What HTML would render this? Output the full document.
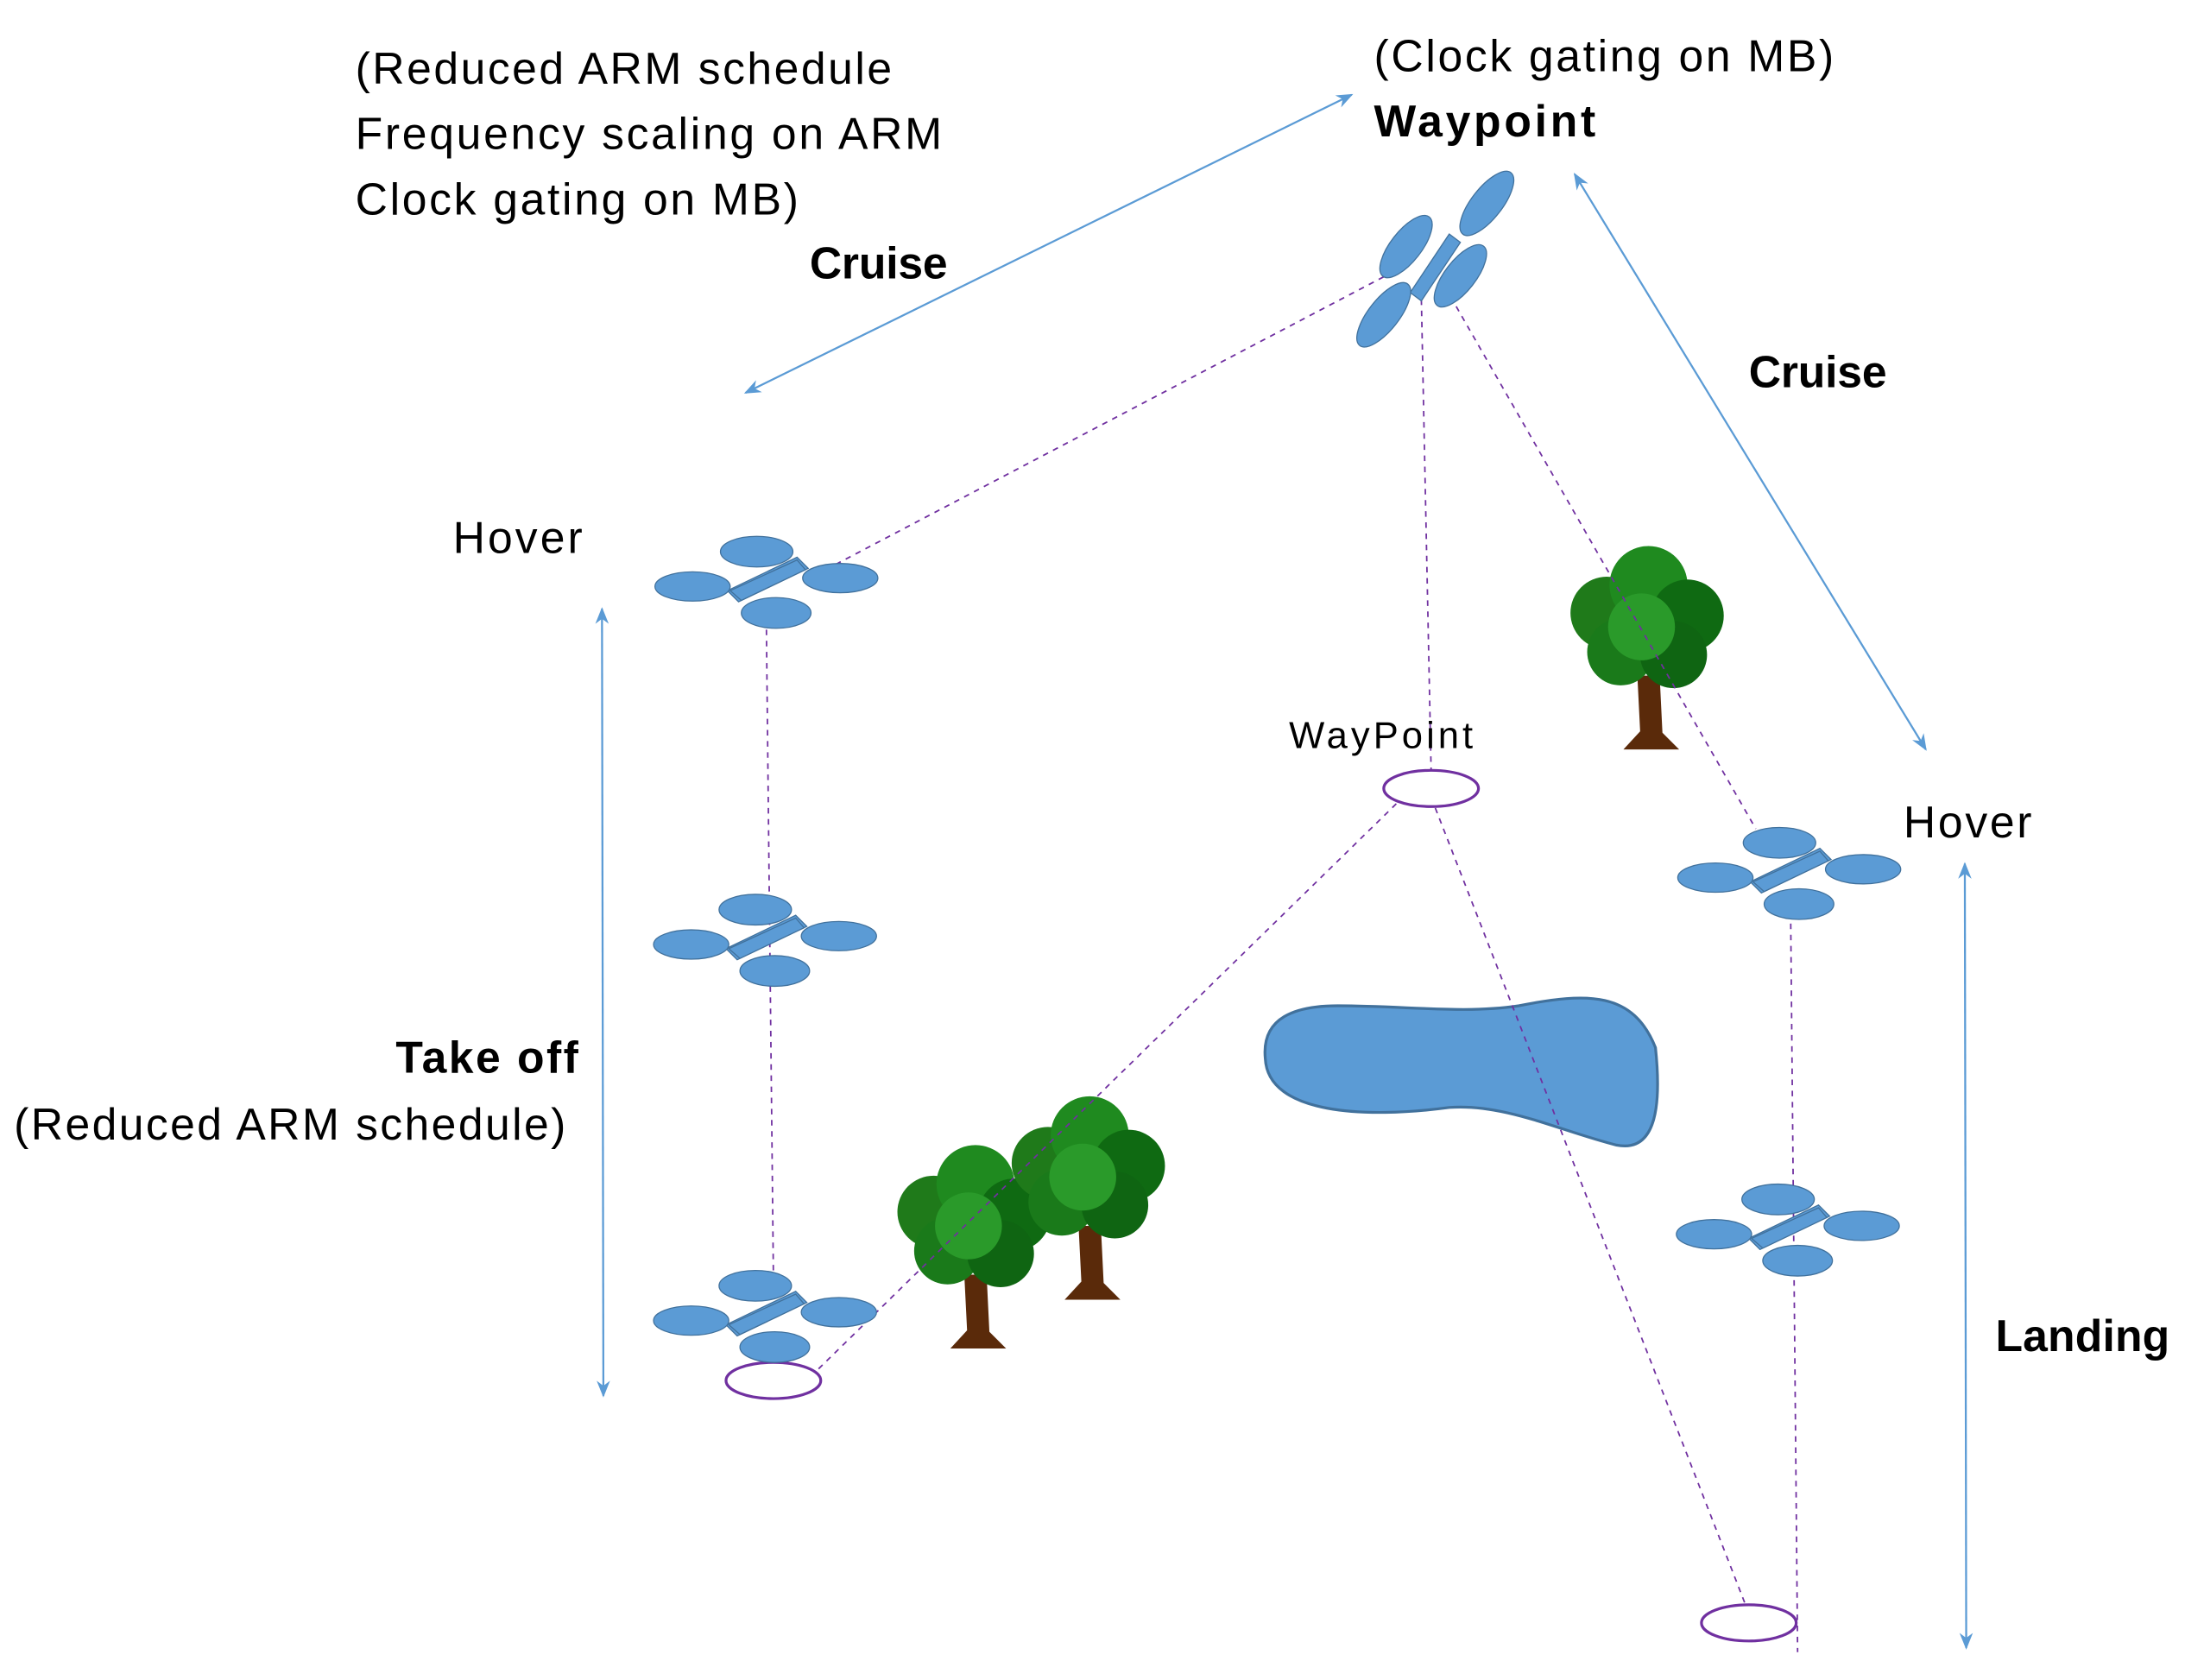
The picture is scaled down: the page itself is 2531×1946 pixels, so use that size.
<!DOCTYPE html>
<html><head><meta charset="utf-8"><style>
html,body{margin:0;padding:0;background:#fff;}
svg{display:block;}
text{font-family:"Liberation Sans",sans-serif;fill:#000;}
</style></head><body>
<svg width="2531" height="1946" viewBox="0 0 1568 1206" preserveAspectRatio="none" xmlns="http://www.w3.org/2000/svg">
<defs>
<marker id="ah" viewBox="0 0 10 10" refX="9" refY="5" markerWidth="16" markerHeight="12" orient="auto-start-reverse" markerUnits="userSpaceOnUse">
<path d="M0,1 L10,5 L0,9 L3,5 Z" fill="#5b9bd5"/></marker>
<g id="drone">
<polygon points="-28,6 22,-18 30,-10 -20,14"/>
<ellipse cx="-7" cy="-22" rx="26" ry="11"/>
<ellipse cx="-53" cy="3" rx="27" ry="10.5"/>
<ellipse cx="53" cy="-3" rx="27" ry="10.5"/>
<ellipse cx="7" cy="22" rx="25" ry="11"/>
<polygon points="-26,6 22,-16 28,-9 -18,13"/>
</g>
<g id="tree">
<path d="M-8,35 L-6,75 L-18,88 L22,88 L10,76 L8,35 Z" fill="#5a2a0a"/>
<circle cx="-30" cy="-10" r="26" fill="#1f7a1a"/>
<circle cx="0" cy="-30" r="28" fill="#1f8a1f"/>
<circle cx="28" cy="-8" r="26" fill="#0f6a12"/>
<circle cx="-20" cy="18" r="24" fill="#1a7a1a"/>
<circle cx="18" cy="20" r="24" fill="#0f6512"/>
<circle cx="-5" cy="0" r="24" fill="#2a9a2a"/>
</g>
</defs>

<g stroke="#5b9bd5" stroke-width="1.4" fill="none" marker-start="url(#ah)" marker-end="url(#ah)">
<line x1="535" y1="282" x2="970" y2="68"/>
<line x1="1130" y1="125" x2="1382" y2="538"/>
<line x1="432" y1="437" x2="433" y2="1002"/>
<line x1="1410" y1="620" x2="1411" y2="1183"/>
</g>

<path d="M908,760 C905,730 930,722 960,722 C1010,722 1050,728 1090,722 C1140,712 1172,712 1188,752 C1192,790 1190,828 1160,822 C1120,812 1080,792 1040,795 C980,803 910,800 908,760 Z" fill="#5b9bd5" stroke="#41719c" stroke-width="2"/>

<use href="#tree" transform="translate(1183,450)"/>
<use href="#tree" transform="translate(700,880)"/>
<use href="#tree" transform="translate(782,845)"/>

<g stroke="#7030a0" stroke-width="1.1" fill="none" stroke-dasharray="4,4">
<line x1="1000" y1="195" x2="600" y2="405"/>
<line x1="1020" y1="215" x2="1027" y2="553"/>
<line x1="1045" y1="220" x2="1260" y2="595"/>
<line x1="550" y1="452" x2="555" y2="915"/>
<line x1="1002" y1="577" x2="585" y2="985"/>
<line x1="1030" y1="580" x2="1253" y2="1153"/>
<line x1="1285" y1="655" x2="1290" y2="1186"/>
</g>

<g stroke="#7030a0" stroke-width="2" fill="none">
<ellipse cx="1027" cy="566" rx="34" ry="13"/>
<ellipse cx="555" cy="991" rx="34" ry="13"/>
<ellipse cx="1255" cy="1165" rx="34" ry="13"/>
</g>

<g fill="#5b9bd5" stroke="#41719c" stroke-width="0.8">
<use href="#drone" transform="translate(550,418)"/>
<use href="#drone" transform="translate(549,675)"/>
<use href="#drone" transform="translate(549,945)"/>
<use href="#drone" transform="translate(1284,627)"/>
<use href="#drone" transform="translate(1283,883)"/>
<!-- top drone -->
<polygon points="1012,210 1040,168 1048,174 1020,216"/>
<ellipse cx="1067" cy="146" rx="28" ry="11" transform="rotate(-52 1067 146)"/>
<ellipse cx="1009" cy="177" rx="27" ry="11" transform="rotate(-52 1009 177)"/>
<ellipse cx="1048" cy="198" rx="27" ry="11" transform="rotate(-52 1048 198)"/>
<ellipse cx="993" cy="226" rx="28" ry="11" transform="rotate(-52 993 226)"/>
<polygon points="1014,208 1040,170 1046,176 1020,213" stroke="none"/>
</g>

<g font-size="32">
<text x="255" y="60" textLength="385">(Reduced ARM schedule</text>
<text x="255" y="107" textLength="421">Frequency scaling on ARM</text>
<text x="255" y="154" textLength="318">Clock gating on MB)</text>
<text x="986" y="51" textLength="330">(Clock gating on MB)</text>
<text x="325" y="397" textLength="93">Hover</text>
<text x="1366" y="601" textLength="92">Hover</text>
<text x="10" y="818" textLength="396">(Reduced ARM schedule)</text>
</g>
<g font-size="32" font-weight="bold">
<text x="581" y="200" textLength="99">Cruise</text>
<text x="986" y="98" textLength="159">Waypoint</text>
<text x="1255" y="278" textLength="99">Cruise</text>
<text x="284" y="770" textLength="131">Take off</text>
<text x="1432" y="970" textLength="125">Landing</text>
</g>
<text x="925" y="537" font-size="27" textLength="132">WayPoint</text>
</svg>
</body></html>
